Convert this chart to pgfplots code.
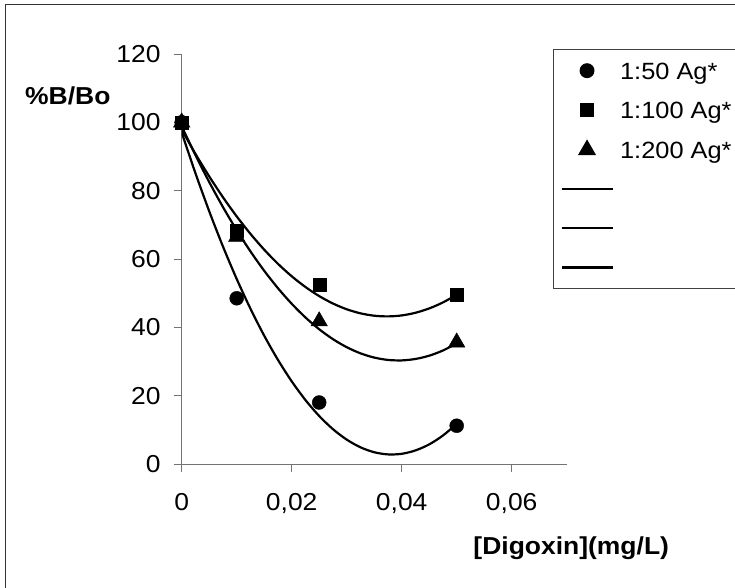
\documentclass[border=0pt]{standalone}
\usepackage{fontspec}
\setmainfont{Liberation Sans}[FakeStretch=1.08]
\usepackage{pgfplots}
\pgfplotsset{compat=1.18}
\newcommand{\chartfont}{\fontsize{24.5}{29}\selectfont}
\newcommand{\legfont}{\fontsize{23.5}{28}\selectfont}
\begin{document}
\begin{tikzpicture}
\useasboundingbox (0,0) rectangle (735pt,588pt);
\clip (0,0) rectangle (735pt,588pt);
\draw[black!80, line width=1pt] (5pt,-20pt) rectangle (760pt,583pt);
\begin{axis}[
  scale only axis, width=385pt, height=410pt,
  at={(181.7pt,124pt)}, anchor=south west,
  xmin=0, xmax=0.07, ymin=0, ymax=120,
  scaled x ticks=false, scaled y ticks=false,
  axis x line*=bottom, axis y line*=left,
  axis line style={-, draw=gray!90!black, line width=0.9pt},
  tick style={draw=gray!90!black, line width=0.9pt},
  tick align=outside, major tick length=8pt,
  xtick={0,0.02,0.04,0.06}, xticklabels={0,{0,02},{0,04},{0,06}},
  ytick={0,20,40,60,80,100,120}, yticklabels={0,20,40,60,80,100,120},
  tick label style={font=\chartfont, inner sep=0pt},
  xticklabel style={anchor=base, yshift=-39pt},
  yticklabel style={anchor=east, xshift=-13pt},
  xlabel={[Digoxin](mg/L)}, ylabel={\%B/Bo},
  every axis x label/.style={at={(0.7574,-0.221)}, anchor=base west, font=\bfseries\chartfont, inner sep=0pt},
  every axis y label/.style={at={(-0.407,0.8756)}, anchor=base west, font=\bfseries\chartfont, inner sep=0pt},
  legend style={at={(0.9636,1.0115)}, anchor=north west, draw=black!75, line width=0.9pt, fill=white,
    inner xsep=7.3pt, inner ysep=12.2pt, row sep=21.7pt, column sep=6.5pt, font=\legfont,
    nodes={inner sep=0pt, text height=17.5pt, text depth=0pt, anchor=west}, cells={anchor=west}},
  legend image code/.code={\draw[mark repeat=2,mark phase=2,#1] plot coordinates {(0pt,0pt) (25.5pt,0pt) (51pt,0pt)};},
]
\addlegendimage{only marks, mark=*, mark size=7pt, black}
\addlegendentry{1:50 Ag*}
\addlegendimage{only marks, mark=square*, mark size=6.5pt, black}
\addlegendentry{1:100 Ag*}
\addlegendimage{only marks, mark=triangle*, mark size=9.5pt, black}
\addlegendentry{1:200 Ag*}
\addlegendimage{no marks, black, line width=2.2pt}
\addlegendentry{}
\addlegendimage{no marks, black, line width=2.2pt}
\addlegendentry{}
\addlegendimage{no marks, black, line width=2.2pt}
\addlegendentry{}

% trend lines (polynomial, order 2)
\addplot[forget plot, no marks, smooth, black, line width=2.2pt] coordinates {
(0,97.04) (0.0025,85.11) (0.005,73.99) (0.0075,63.67) (0.01,54.16) (0.0125,45.46)
(0.015,37.56) (0.0175,30.48) (0.02,24.20) (0.0225,18.72) (0.025,14.05) (0.0275,10.19)
(0.03,7.14) (0.0325,4.89) (0.035,3.44) (0.0375,2.81) (0.04,2.98) (0.0425,3.97)
(0.045,5.74) (0.0475,8.34) (0.05,11.74)};
\addplot[forget plot, no marks, smooth, black, line width=2.2pt] coordinates {
(0,97.85) (0.0025,90.77) (0.005,84.18) (0.0075,78.08) (0.01,72.47) (0.0125,67.36)
(0.015,62.73) (0.0175,58.59) (0.02,54.95) (0.0225,51.80) (0.025,49.14) (0.0275,46.97)
(0.03,45.29) (0.0325,44.10) (0.035,43.40) (0.0375,43.20) (0.04,43.48) (0.0425,44.26)
(0.045,45.53) (0.0475,47.29) (0.05,49.54)};
\addplot[forget plot, no marks, smooth, black, line width=2.2pt] coordinates {
(0,98.83) (0.0025,90.40) (0.005,82.53) (0.0075,75.21) (0.01,68.44) (0.0125,62.23)
(0.015,56.56) (0.0175,51.45) (0.02,46.90) (0.0225,42.89) (0.025,39.44) (0.0275,36.54)
(0.03,34.19) (0.0325,32.39) (0.035,31.15) (0.0375,30.46) (0.04,30.32) (0.0425,30.74)
(0.045,31.70) (0.0475,33.22) (0.05,35.30)};

% data points
\addplot[forget plot, only marks, mark=*, mark size=7pt, black] coordinates {
(0,100) (0.01,48.5) (0.025,18) (0.05,11.2)};
\addplot[forget plot, only marks, mark=triangle*, mark size=9.5pt, black] coordinates {
(0,100) (0.01,66.5) (0.025,41.8) (0.05,35.6)};
\addplot[forget plot, only marks, mark=square*, mark size=6.5pt, black] coordinates {
(0,100) (0.01,68.3) (0.025,52.4) (0.05,49.5)};
\end{axis}
\end{tikzpicture}
\end{document}
